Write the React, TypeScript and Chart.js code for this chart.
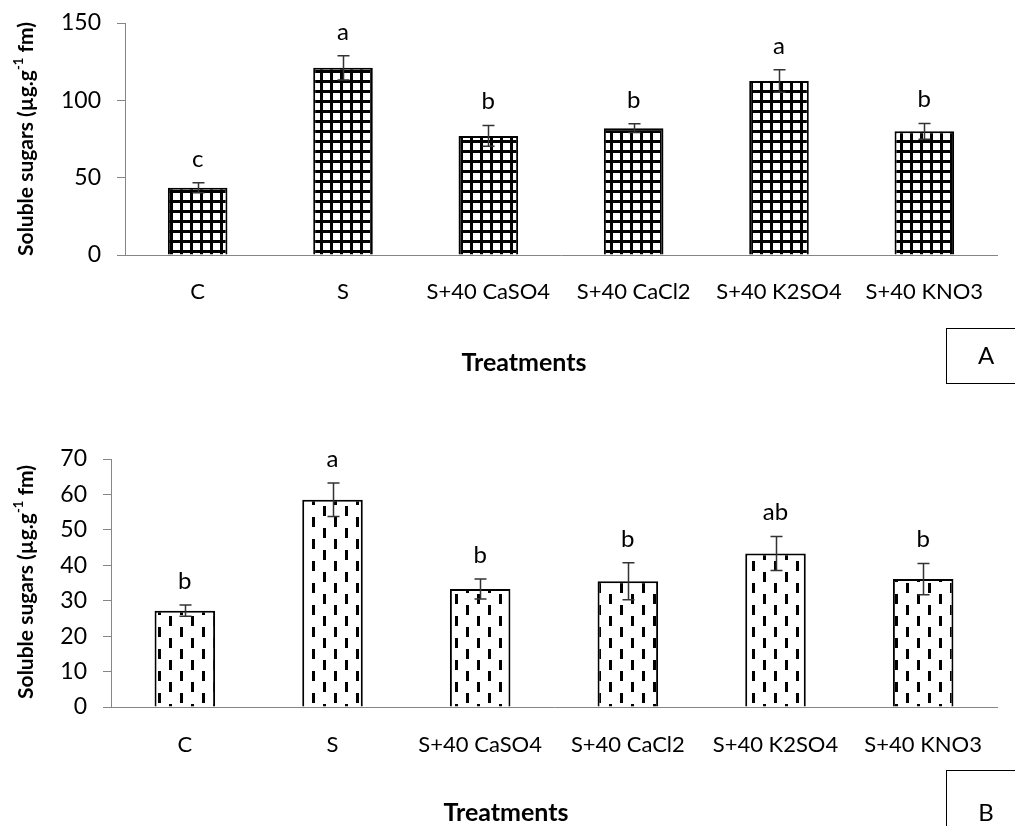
import React, { useEffect, useRef } from 'react';
import { Chart, registerables } from 'chart.js';

Chart.register(...registerables);

// ---- data ----
const categories = ['C', 'S', 'S+40 CaSO4', 'S+40 CaCl2', 'S+40 K2SO4', 'S+40 KNO3'];

const sugarsA = [43.5, 121, 77, 82, 112.5, 80];
const errorsA = [3.2, 7.8, 6.7, 2.8, 7.2, 5.1];
const lettersA = ['c', 'a', 'b', 'b', 'a', 'b'];
const maxA = 150;
const stepA = 50;

const sugarsB = [27.2, 58.5, 33.3, 35.5, 43.3, 36.1];
const errorsB = [1.6, 4.7, 2.8, 5.2, 4.8, 4.4];
const lettersB = ['b', 'a', 'b', 'b', 'ab', 'b'];
const maxB = 70;
const stepB = 10;

const yTitleMain = 'Soluble sugars (µg.g';
const yTitleSup = '-1';
const yTitleEnd = ' fm)';
const xTitle = 'Treatments';

const FONT = 'Lato, "Open Sans", "DejaVu Sans", sans-serif';
const AXIS_GRAY = '#868686';

function makeGridPattern(ctx: CanvasRenderingContext2D) {
  const c = document.createElement('canvas');
  c.width = 10;
  c.height = 10;
  const g = c.getContext('2d')!;
  g.fillStyle = '#ffffff';
  g.fillRect(0, 0, 10, 10);
  g.fillStyle = '#000000';
  g.fillRect(0, 0, 3, 10);
  g.fillRect(0, 0, 10, 3);
  return ctx.createPattern(c, 'repeat')!;
}

function makeDashPattern(ctx: CanvasRenderingContext2D) {
  const c = document.createElement('canvas');
  c.width = 22;
  c.height = 22;
  const g = c.getContext('2d')!;
  g.fillStyle = '#ffffff';
  g.fillRect(0, 0, 22, 22);
  g.fillStyle = '#000000';
  g.fillRect(4, 2, 3, 10);
  g.fillRect(15, 13, 3, 10);
  g.fillRect(15, 0, 3, 1);
  return ctx.createPattern(c, 'repeat')!;
}

interface Panel {
  values: number[];
  errors: number[];
  letters: string[];
  max: number;
  step: number;
  kind: 'grid' | 'dash';
  padTop: number;
  yWidth: number;
  xHeight: number;
  xPad: number;
  yTitleX: number;
  yTitleY: number;
  xTitleX: number;
  xTitleY: number;
  box: { x: number; y: number; w: number; h: number; label: string; lx: number; ly: number };
}

function overlayPlugin(p: Panel) {
  return {
    id: 'overlay',
    afterDatasetsDraw(chart: any) {
      const ctx: CanvasRenderingContext2D = chart.ctx;
      const meta = chart.getDatasetMeta(0);
      const ys = chart.scales.y;
      ctx.save();
      meta.data.forEach((bar: any, i: number) => {
        const x = Math.round(bar.x) + 0.5;
        const v = p.values[i];
        const e = p.errors[i];
        const yt = ys.getPixelForValue(v + e);
        const yb = ys.getPixelForValue(v - e);
        ctx.strokeStyle = '#333333';
        ctx.lineWidth = 1.5;
        ctx.beginPath();
        ctx.moveTo(x, yt);
        ctx.lineTo(x, yb);
        ctx.moveTo(x - 6, yt);
        ctx.lineTo(x + 6, yt);
        ctx.moveTo(x - 6, yb);
        ctx.lineTo(x + 6, yb);
        ctx.stroke();
        ctx.fillStyle = '#000000';
        ctx.font = `24px ${FONT}`;
        ctx.textAlign = 'center';
        ctx.textBaseline = 'middle';
        ctx.fillText(p.letters[i], bar.x, yt - 24);
      });
      ctx.restore();
    },
    afterDraw(chart: any) {
      const ctx: CanvasRenderingContext2D = chart.ctx;
      ctx.save();
      ctx.fillStyle = '#000000';
      // y title with superscript
      ctx.translate(p.yTitleX, p.yTitleY);
      ctx.rotate(-Math.PI / 2);
      const mainFont = `bold 21px ${FONT}`;
      const supFont = `bold 13px ${FONT}`;
      const parts: [string, string, number][] = [
        [yTitleMain, mainFont, 0],
        [yTitleSup, supFont, -7],
        [yTitleEnd, mainFont, 0],
      ];
      let total = 0;
      const widths = parts.map(([t, f]) => {
        ctx.font = f;
        const w = ctx.measureText(t).width;
        total += w;
        return w;
      });
      let cx = -total / 2;
      ctx.textAlign = 'left';
      ctx.textBaseline = 'middle';
      parts.forEach(([t, f, dy], i) => {
        ctx.font = f;
        ctx.fillText(t, cx, dy);
        cx += widths[i];
      });
      ctx.setTransform(1, 0, 0, 1, 0, 0);
      // x title
      ctx.font = `bold 25px ${FONT}`;
      ctx.textAlign = 'center';
      ctx.textBaseline = 'middle';
      ctx.fillText(xTitle, p.xTitleX, p.xTitleY);
      // panel label box
      ctx.strokeStyle = '#000000';
      ctx.lineWidth = 1;
      ctx.strokeRect(p.box.x + 0.5, p.box.y + 0.5, p.box.w, p.box.h);
      ctx.font = `24px ${FONT}`;
      ctx.fillText(p.box.label, p.box.lx, p.box.ly);
      ctx.restore();
    },
  };
}

function buildChart(canvas: HTMLCanvasElement, p: Panel) {
  const ctx = canvas.getContext('2d')!;
  const pattern = p.kind === 'grid' ? makeGridPattern(ctx) : makeDashPattern(ctx);
  return new Chart(canvas, {
    type: 'bar',
    data: {
      labels: categories,
      datasets: [
        {
          data: p.values,
          backgroundColor: pattern as any,
          borderColor: '#000000',
          borderWidth: 2,
          barPercentage: 0.41,
          categoryPercentage: 1,
        },
      ],
    },
    options: {
      animation: false,
      responsive: false,
      maintainAspectRatio: false,
      devicePixelRatio: 1,
      layout: { padding: { left: 0, right: 18, top: p.padTop, bottom: 0 } },
      plugins: {
        legend: { display: false },
        tooltip: { enabled: false },
      },
      scales: {
        x: {
          grid: { display: false },
          border: { display: true, color: AXIS_GRAY, width: 1 },
          ticks: {
            color: '#000000',
            font: { family: FONT, size: 22 },
            padding: p.xPad,
            maxRotation: 0,
            autoSkip: false,
          },
          afterFit: (s: any) => {
            s.height = p.xHeight;
            s.paddingLeft = 0;
            s.paddingRight = 0;
          },
        },
        y: {
          min: 0,
          max: p.max,
          ticks: {
            stepSize: p.step,
            color: '#000000',
            font: { family: FONT, size: 23 },
            padding: 16,
          },
          grid: {
            display: true,
            drawOnChartArea: false,
            drawTicks: true,
            tickLength: 8,
            color: AXIS_GRAY,
          },
          border: { display: true, color: AXIS_GRAY, width: 1 },
          afterFit: (s: any) => {
            s.width = p.yWidth;
            s.paddingTop = 0;
            s.paddingBottom = 0;
          },
        },
      },
    } as any,
    plugins: [overlayPlugin(p)],
  });
}

const panelA: Panel = {
  values: sugarsA,
  errors: errorsA,
  letters: lettersA,
  max: maxA,
  step: stepA,
  kind: 'grid',
  padTop: 23,
  yWidth: 125,
  xHeight: 150,
  xPad: 16,
  yTitleX: 26,
  yTitleY: 139,
  xTitleX: 524,
  xTitleY: 363,
  box: { x: 946, y: 328, w: 75, h: 55, label: 'A', lx: 986, ly: 356 },
};

const panelB: Panel = {
  values: sugarsB,
  errors: errorsB,
  letters: lettersB,
  max: maxB,
  step: stepB,
  kind: 'dash',
  padTop: 54,
  yWidth: 111,
  xHeight: 119,
  xPad: 17,
  yTitleX: 26,
  yTitleY: 177,
  xTitleX: 506,
  xTitleY: 408,
  box: { x: 946, y: 365, w: 75, h: 70, label: 'B', lx: 986, ly: 408 },
};

export default function App() {
  const refA = useRef<HTMLCanvasElement>(null);
  const refB = useRef<HTMLCanvasElement>(null);

  useEffect(() => {
    const a = buildChart(refA.current!, panelA);
    const b = buildChart(refB.current!, panelB);
    return () => {
      a.destroy();
      b.destroy();
    };
  }, []);

  return (
    <div style={{ position: 'absolute', left: 0, top: 0, width: 1015, height: 826, background: '#ffffff', overflow: 'hidden' }}>
      <canvas ref={refA} width={1015} height={405} style={{ display: 'block', width: 1015, height: 405 }} />
      <canvas ref={refB} width={1015} height={421} style={{ display: 'block', width: 1015, height: 421 }} />
    </div>
  );
}
